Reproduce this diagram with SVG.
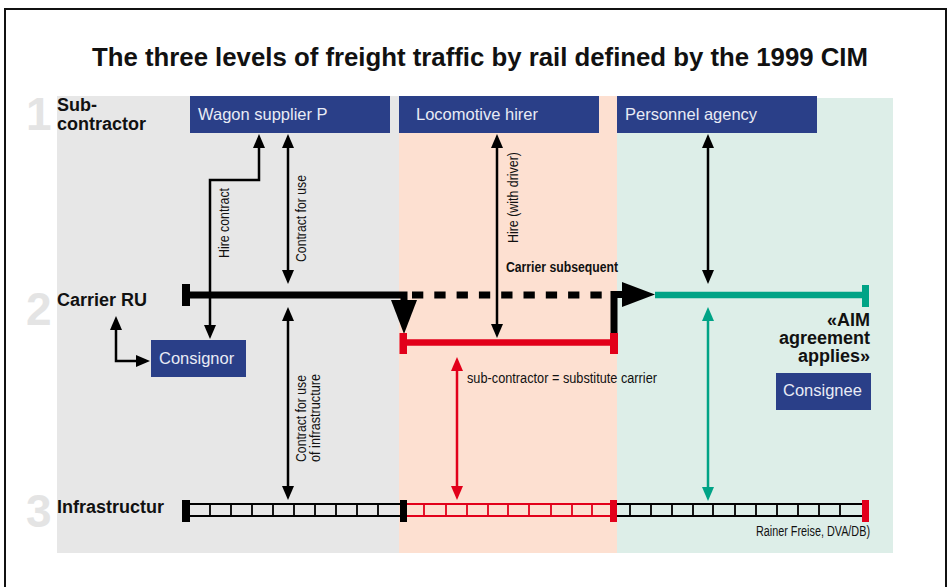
<svg xmlns="http://www.w3.org/2000/svg" width="949" height="587" viewBox="0 0 949 587">
  <style>
    .lvl { font-family: "Liberation Sans", Arial, sans-serif; font-weight: bold; font-size: 18px; fill: #111; }
    .num { font-family: "Liberation Sans", Arial, sans-serif; font-weight: bold; font-size: 46px; fill: #e4e4e4; }
    .box { fill: #2a3f88; }
    .boxtxt { font-family: "Liberation Sans", Arial, sans-serif; font-size: 16.5px; fill: #e8ebf5; }
    .cond { font-family: "Liberation Sans Narrow", "Liberation Sans", Arial, sans-serif; font-size: 14px; fill: #111; }
    .thin { fill: none; stroke-width: 2.5; }
    .blk { stroke: #000; }
    .red { stroke: #e2001a; }
    .teal { stroke: #00a386; }
    .rail { fill: none; stroke-width: 2; }
    .tie { fill: none; stroke-width: 1.8; }
  </style>
  <defs>
    <marker id="ah-black" viewBox="0 0 14 12" refX="10" refY="6" markerWidth="14" markerHeight="12" markerUnits="userSpaceOnUse" orient="auto-start-reverse">
      <path d="M0,0 L14,6 L0,12 Z" fill="#000"/>
    </marker>
    <marker id="ah-red" viewBox="0 0 14 12" refX="10" refY="6" markerWidth="14" markerHeight="12" markerUnits="userSpaceOnUse" orient="auto-start-reverse">
      <path d="M0,0 L14,6 L0,12 Z" fill="#e2001a"/>
    </marker>
    <marker id="ah-teal" viewBox="0 0 14 12" refX="10" refY="6" markerWidth="14" markerHeight="12" markerUnits="userSpaceOnUse" orient="auto-start-reverse">
      <path d="M0,0 L14,6 L0,12 Z" fill="#00a386"/>
    </marker>
  </defs>

  <rect x="0" y="0" width="949" height="587" fill="#fff"/>
  <rect x="5" y="9" width="941" height="600" fill="none" stroke="#111" stroke-width="2"/>

  <!-- zone backgrounds -->
  <g id="zones">
    <rect x="57" y="96" width="343" height="457" fill="#e7e7e7"/>
    <rect x="399" y="96" width="218" height="457" fill="#fde0d1"/>
    <rect x="617" y="98" width="276" height="455" fill="#ddeee8"/>
  </g>

  <text x="92" y="66" font-family="'Liberation Sans', Arial, sans-serif" font-weight="bold" font-size="25.5" fill="#111" textLength="776" lengthAdjust="spacingAndGlyphs">The three levels of freight traffic by rail defined by the 1999 CIM</text>

  <!-- level labels -->
  <g id="levels">
    <text class="num" x="26" y="130">1</text>
    <text class="num" x="26" y="325">2</text>
    <text class="num" x="26" y="527">3</text>
    <text class="lvl" x="57" y="111">Sub-</text>
    <text class="lvl" x="57" y="130">contractor</text>
    <text class="lvl" x="57" y="306">Carrier RU</text>
    <text class="lvl" x="57" y="513">Infrastructur</text>
  </g>

  <!-- nodes -->
  <g id="wagon-supplier">
    <rect class="box" x="190" y="96" width="200" height="37"/>
    <text class="boxtxt" x="198" y="120">Wagon supplier P</text>
  </g>
  <g id="locomotive-hirer">
    <rect class="box" x="399" y="96" width="200" height="37"/>
    <text class="boxtxt" x="416" y="120">Locomotive hirer</text>
  </g>
  <g id="personnel-agency">
    <rect class="box" x="617" y="96" width="200" height="37"/>
    <text class="boxtxt" x="625" y="120">Personnel agency</text>
  </g>
  <g id="consignor">
    <rect class="box" x="151" y="340" width="95" height="37"/>
    <text class="boxtxt" x="159" y="364">Consignor</text>
  </g>
  <g id="consignee">
    <rect class="box" x="776" y="373" width="95" height="37"/>
    <text class="boxtxt" x="783" y="396">Consignee</text>
  </g>

  <!-- infrastructure track -->
  <g id="infrastructure">
    <path class="rail blk" d="M186,504 H404 M186,516 H404"/>
    <path class="tie blk" d="M210,504V516 M231,504V516 M252,504V516 M273,504V516 M294,504V516 M315,504V516 M336,504V516 M357,504V516 M378,504V516"/>
    <path class="rail red" d="M404,504 H614 M404,516 H614"/>
    <path class="tie red" d="M424,504V516 M446,504V516 M467,504V516 M488,504V516 M508,504V516 M529,504V516 M551,504V516 M572,504V516 M592,504V516"/>
    <path class="rail blk" d="M614,504 H866 M614,516 H866"/>
    <path class="tie blk" d="M630,504V516 M651,504V516 M672,504V516 M693,504V516 M713,504V516 M735,504V516 M756,504V516 M777,504V516 M798,504V516 M819,504V516 M840,504V516"/>
    <rect x="182" y="500" width="8" height="22" fill="#000"/>
    <rect x="400" y="500" width="7" height="22" fill="#000"/>
    <rect x="610" y="500" width="7" height="22" fill="#e2001a"/>
    <rect x="862" y="500" width="7" height="22" fill="#e2001a"/>
  </g>

  <!-- carrier line -->
  <g id="carrier-line">
    <path d="M186,295 H404 V302" fill="none" stroke="#000" stroke-width="7"/>
    <polygon points="391,300 417,300 404,334" fill="#000"/>
    <line x1="412" y1="295" x2="602" y2="295" stroke="#000" stroke-width="7" stroke-dasharray="11.3 11"/>
    <rect x="182" y="284" width="8" height="22" fill="#000"/>
    <line x1="403" y1="342.5" x2="614" y2="342.5" stroke="#e2001a" stroke-width="6.5"/>
    <rect x="399.5" y="333" width="7.5" height="21" fill="#e2001a"/>
    <rect x="610" y="333" width="8" height="21" fill="#e2001a"/>
    <path d="M614,333 V294.5 H624" fill="none" stroke="#000" stroke-width="7"/>
    <polygon points="622,282 622,307 655,294.5" fill="#000"/>
    <line x1="655" y1="295" x2="866" y2="295" stroke="#00a386" stroke-width="6.5"/>
    <rect x="862" y="285" width="7" height="22" fill="#00a386"/>
  </g>

  <!-- contract arrows -->
  <g id="connectors">
    <path class="thin blk" d="M210,335 V180 H259 V138" marker-start="url(#ah-black)" marker-end="url(#ah-black)"/>
    <path class="thin blk" d="M288,138 V280" marker-start="url(#ah-black)" marker-end="url(#ah-black)"/>
    <path class="thin blk" d="M288,311 V496" marker-start="url(#ah-black)" marker-end="url(#ah-black)"/>
    <path class="thin blk" d="M497,138 V334" marker-start="url(#ah-black)" marker-end="url(#ah-black)"/>
    <path class="thin blk" d="M708,138 V280" marker-start="url(#ah-black)" marker-end="url(#ah-black)"/>
    <path class="thin teal" d="M708,311 V497" marker-start="url(#ah-teal)" marker-end="url(#ah-teal)"/>
    <path class="thin red" d="M457,361 V496" marker-start="url(#ah-red)" marker-end="url(#ah-red)"/>
    <path class="thin blk" d="M116,320 V361 H146" marker-start="url(#ah-black)" marker-end="url(#ah-black)"/>
  </g>

  <!-- labels -->
  <g id="labels">
    <text class="cond" transform="translate(229,258) rotate(-90)" textLength="70" lengthAdjust="spacingAndGlyphs">Hire contract</text>
    <text class="cond" transform="translate(306,262) rotate(-90)" textLength="87" lengthAdjust="spacingAndGlyphs">Contract for use</text>
    <text class="cond" transform="translate(306,462) rotate(-90)" textLength="87" lengthAdjust="spacingAndGlyphs">Contract for use</text>
    <text class="cond" transform="translate(320,462) rotate(-90)" textLength="88" lengthAdjust="spacingAndGlyphs">of infrastructure</text>
    <text class="cond" transform="translate(518,243) rotate(-90)" textLength="91" lengthAdjust="spacingAndGlyphs">Hire (with driver)</text>
    <text class="cond" x="506" y="272" font-weight="bold" font-size="15" textLength="112" lengthAdjust="spacingAndGlyphs">Carrier subsequent</text>
    <text class="cond" x="467" y="383" fill="#222" textLength="190" lengthAdjust="spacingAndGlyphs">sub-contractor = substitute carrier</text>
    <text class="lvl" x="870" y="326" text-anchor="end">«AIM</text>
    <text class="lvl" x="870" y="344" text-anchor="end">agreement</text>
    <text class="lvl" x="870" y="362" text-anchor="end">applies»</text>
    <text class="cond" x="756" y="536" font-size="11.5" fill="#333" textLength="114" lengthAdjust="spacingAndGlyphs">Rainer Freise, DVA/DB)</text>
  </g>
</svg>
